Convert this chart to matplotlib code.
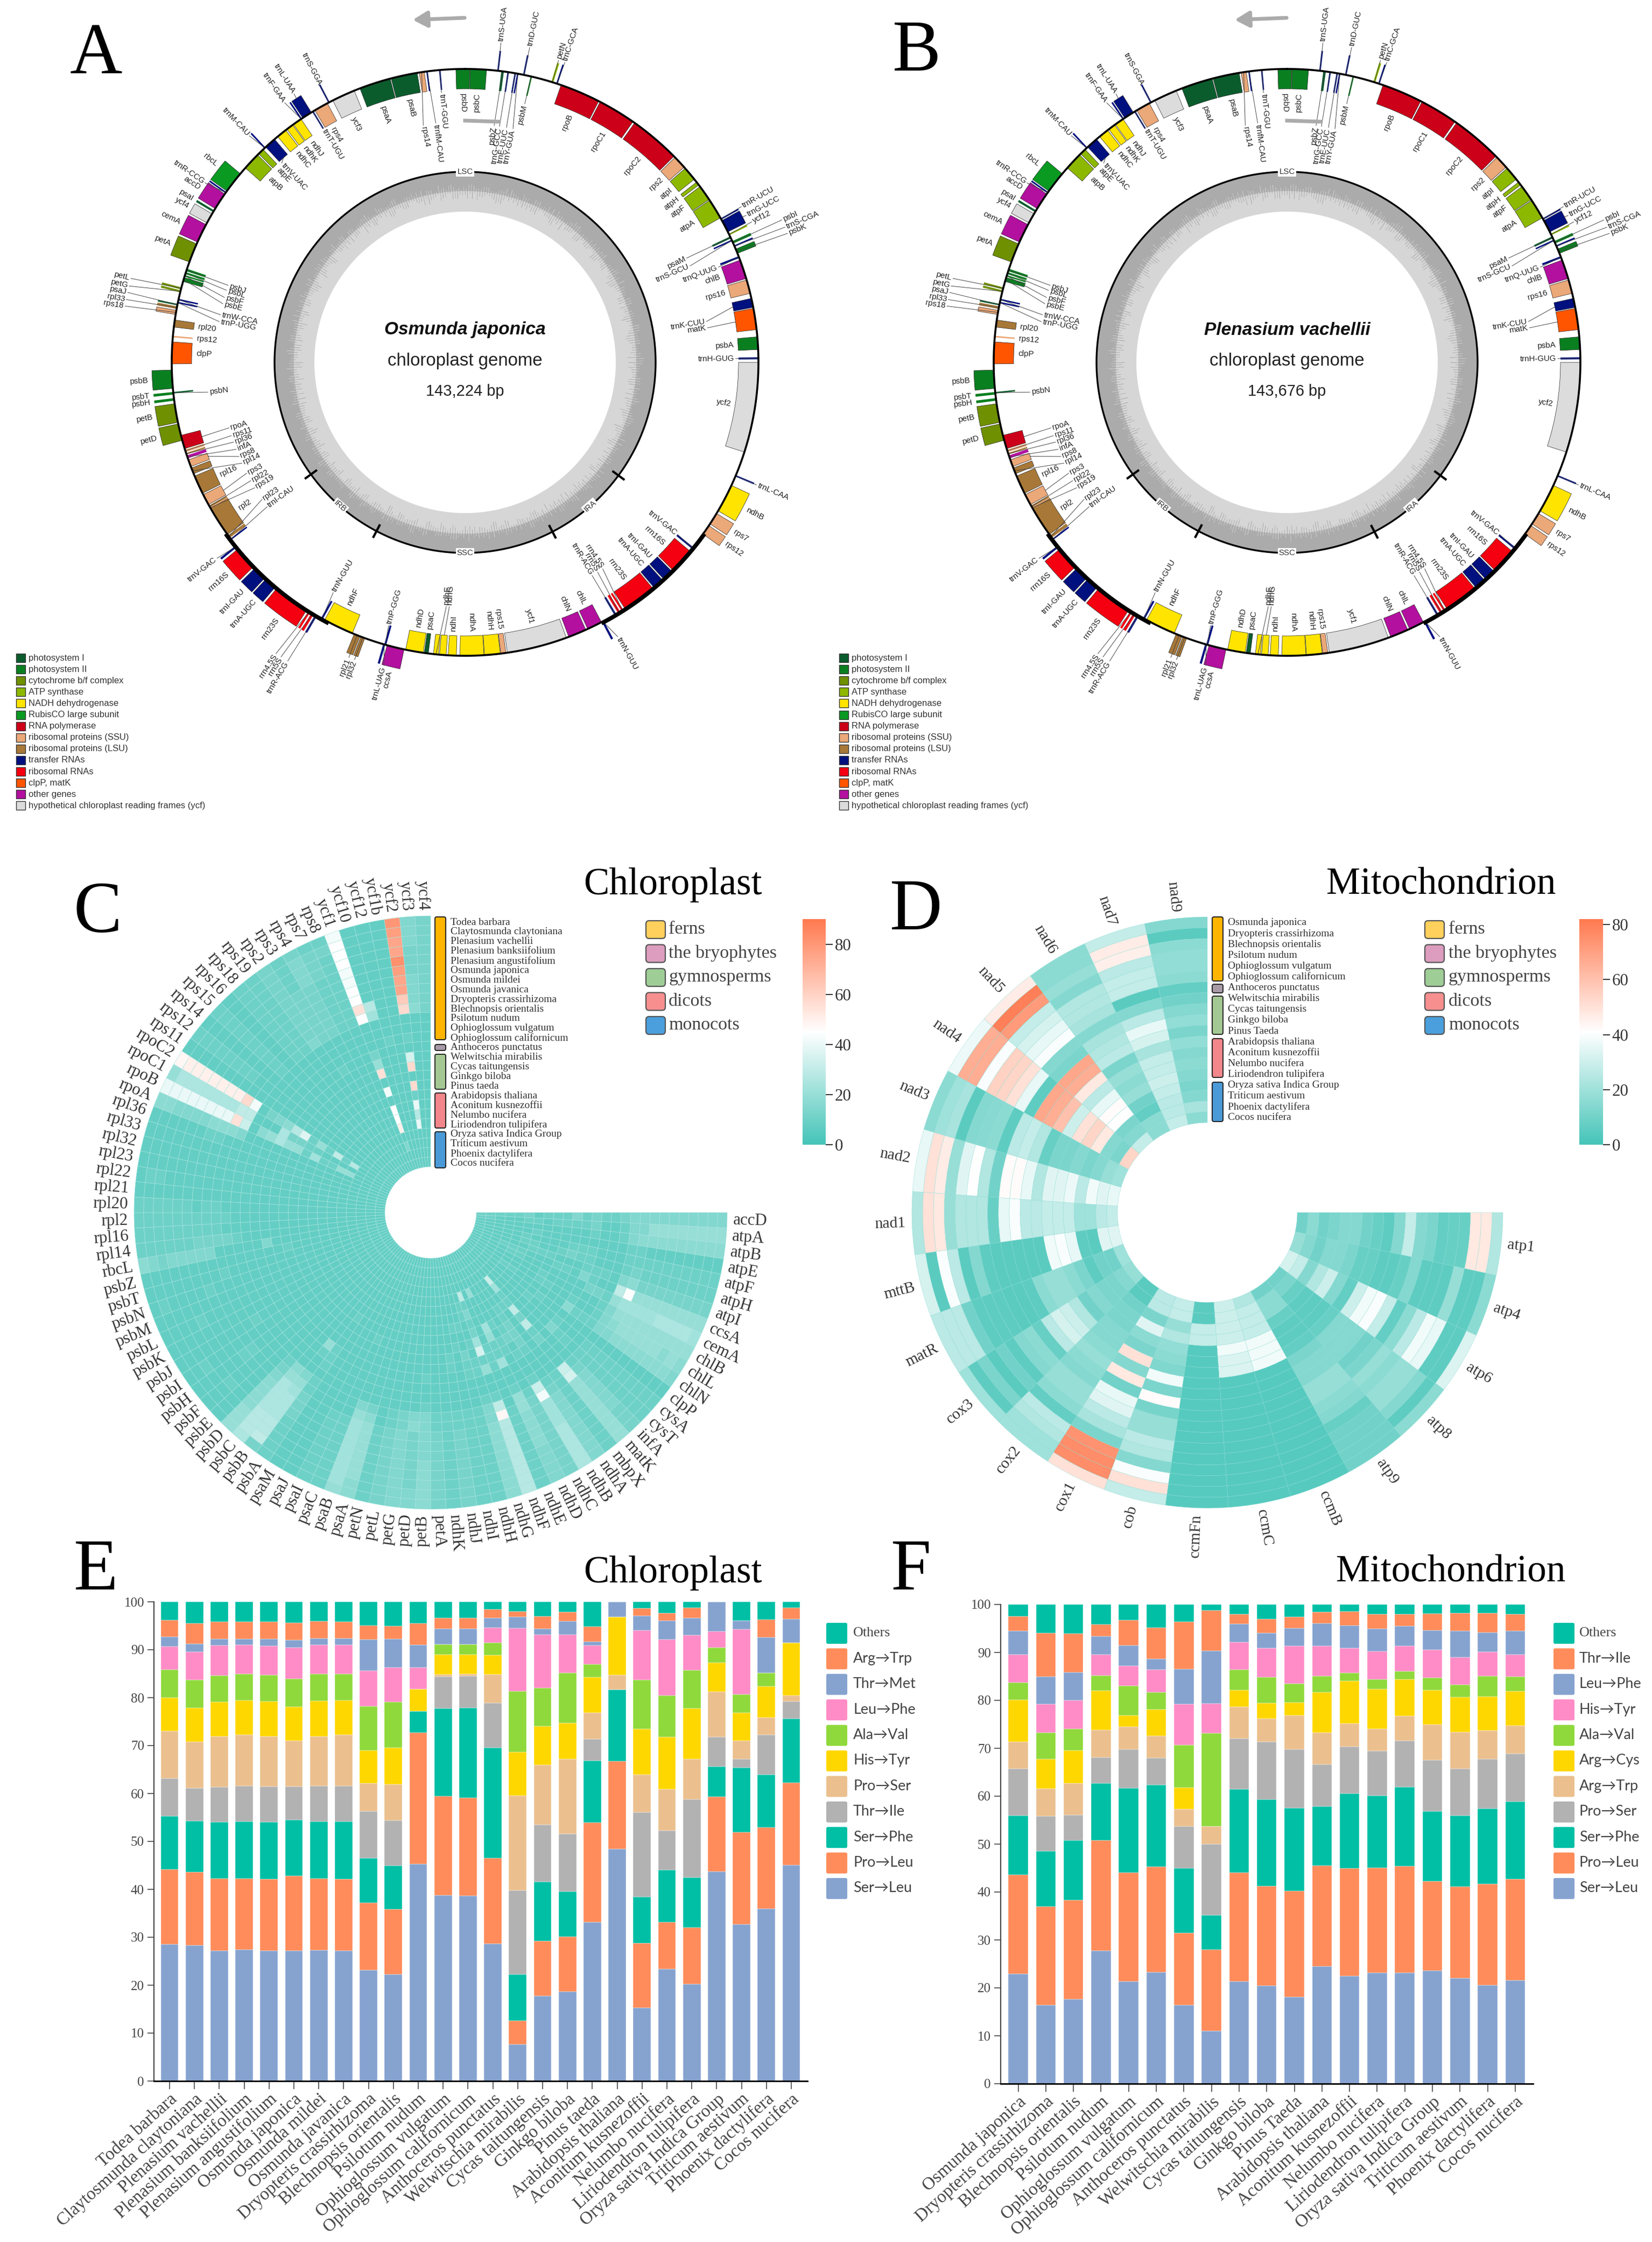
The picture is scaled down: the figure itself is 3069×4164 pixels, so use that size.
import numpy as np
import matplotlib
matplotlib.use('Agg')
import matplotlib.pyplot as plt
from matplotlib.colors import LinearSegmentedColormap, Normalize
from matplotlib.cm import ScalarMappable
from matplotlib.patches import Rectangle, FancyBboxPatch

W, H = 3069, 4164
SERIF = 'Liberation Serif'
SANS = 'Liberation Sans'

# ---- genome maps ----
group_colors = {'psI': '#0B5C2D', 'psII': '#0A7F20', 'cyt': '#6F9000', 'atp': '#8DB800', 'ndh': '#FFE400',
                'rbc': '#0A9A22', 'rna': '#CC0018', 'ssu': '#EBA878', 'lsu': '#A87838', 'trna': '#00107F',
                'rrna': '#F40010', 'clp': '#FF5500', 'oth': '#B3109F', 'ycf': '#DCDCDC'}
legend_a_names = ['photosystem I', 'photosystem II', 'cytochrome b/f complex', 'ATP synthase', 'NADH dehydrogenase',
                  'RubisCO large subunit', 'RNA polymerase', 'ribosomal proteins (SSU)', 'ribosomal proteins (LSU)',
                  'transfer RNAs', 'ribosomal RNAs', 'clpP, matK', 'other genes',
                  'hypothetical chloroplast reading frames (ycf)']
legend_a_groups = ['psI', 'psII', 'cyt', 'atp', 'ndh', 'rbc', 'rna', 'ssu', 'lsu', 'trna', 'rrna', 'clp', 'oth', 'ycf']

# name, group, start deg, end deg, side, label deg, label radius
genes = [
    ('rpoB', 'rna', 19.1, 27.1, 'i', None, None), ('rpoC1', 'rna', 27.4, 34.9, 'i', None, None),
    ('rpoC2', 'rna', 35.3, 45.4, 'i', None, None), ('rps2', 'ssu', 45.7, 48.3, 'i', None, None),
    ('atpI', 'atp', 48.6, 51.4, 'i', None, None), ('atpH', 'atp', 52.1, 52.8, 'i', None, None),
    ('atpF', 'atp', 53.2, 56.3, 'i', None, None), ('atpA', 'atp', 56.5, 60.5, 'i', None, None),
    ('trnR-UCU', 'trna', 60.6, 60.9, 'o', 60.6, 592), ('trnG-UCC', 'trna', 61.1, 63.6, 'o', 62.4, 592),
    ('ycf12', 'atp', 64.0, 64.3, 'o', 63.9, 596), ('psaM', 'psI', 64.6, 65.0, 'i', 64.8, 452),
    ('trnS-GCU', 'trna', 65.3, 65.6, 'i', 66.8, 452), ('psbI', 'psII', 65.6, 66.1, 'o', 65.8, 648),
    ('trnS-CGA', 'trna', 66.5, 66.8, 'o', 67.1, 648), ('psbK', 'psII', 67.3, 68.2, 'o', 68.2, 648),
    ('trnQ-UUG', 'trna', 68.8, 69.2, 'i', 69.4, 500), ('chlB', 'oth', 69.6, 73.4, 'i', None, None),
    ('rps16', 'ssu', 73.7, 76.4, 'i', None, None), ('trnK-CUU', 'trna', 77.4, 79.2, 'i', 80.4, 452),
    ('matK', 'clp', 79.4, 83.6, 'i', 81.9, 452), ('psbA', 'psII', 85.0, 87.5, 'i', None, None),
    ('trnH-GUG', 'trna', 89.0, 89.4, 'i', 89.2, 500), ('ycf2', 'ycf', 90.0, 107.8, 'i', None, None),
    ('trnL-CAA', 'trna', 112.6, 112.9, 'o', 112.8, 590), ('ndhB', 'ndh', 114.8, 120.4, 'o', None, None),
    ('rps7', 'ssu', 121.0, 123.4, 'o', None, None), ('rps12', 'ssu', 123.8, 125.8, 'o', None, None),
    ('trnV-GAC', 'trna', 129.0, 129.4, 'i', 129.0, 505), ('rrn16S', 'rrna', 130.0, 135.0, 'i', None, None),
    ('trnI-GAU', 'trna', 135.3, 137.5, 'i', None, None), ('trnA-UGC', 'trna', 137.8, 140.0, 'i', None, None),
    ('rrn23S', 'rrna', 140.3, 147.0, 'i', None, None), ('rrn4.5S', 'rrna', 147.4, 147.8, 'i', 146.3, 458),
    ('rrn5S', 'rrna', 148.1, 148.6, 'i', 147.7, 458), ('trnR-ACG', 'trna', 149.0, 149.4, 'i', 149.2, 458),
    ('trnN-GUU', 'trna', 151.8, 152.2, 'o', 150.9, 586), ('chlL', 'oth', 152.3, 155.3, 'i', None, None),
    ('chlN', 'oth', 155.7, 159.3, 'i', None, None), ('ycf1', 'ycf', 159.8, 171.7, 'i', None, None),
    ('rps15', 'ssu', 172.0, 173.0, 'i', None, None), ('ndhH', 'ndh', 173.1, 176.2, 'i', None, None),
    ('ndhA', 'ndh', 176.3, 181.0, 'i', None, None), ('ndhI', 'ndh', 181.7, 183.3, 'i', None, None),
    ('ndhG', 'ndh', 183.7, 185.0, 'i', 183.7, 452), ('ndhE', 'ndh', 185.2, 186.2, 'i', 184.4, 452),
    ('psaC', 'psI', 187.2, 188.0, 'i', None, None), ('ndhD', 'ndh', 188.2, 191.7, 'i', None, None),
    ('ccsA', 'oth', 192.0, 195.4, 'o', None, None), ('trnP-GGG', 'trna', 195.6, 196.0, 'i', 196.2, 506),
    ('trnL-UAG', 'trna', 195.8, 196.2, 'o', 195.0, 586), ('rpl32', 'lsu', 200.0, 200.8, 'o', 200.4, 592),
    ('rpl21', 'lsu', 201.0, 202.2, 'o', 201.5, 592), ('ndhF', 'ndh', 202.6, 208.6, 'i', None, None),
    ('trnN-GUU', 'trna', 209.0, 209.4, 'i', 209.8, 490), ('trnR-ACG', 'trna', 210.3, 210.7, 'o', 210.7, 648),
    ('rrn5S', 'rrna', 211.0, 211.5, 'o', 212.0, 648), ('rrn4.5S', 'rrna', 211.8, 212.2, 'o', 213.0, 648),
    ('rrn23S', 'rrna', 212.6, 219.8, 'o', None, None), ('trnA-UGC', 'trna', 220.2, 222.6, 'o', None, None),
    ('trnI-GAU', 'trna', 222.9, 225.6, 'o', None, None), ('rrn16S', 'rrna', 226.0, 230.6, 'o', None, None),
    ('trnV-GAC', 'trna', 231.0, 231.4, 'o', 231.7, 590), ('trnI-CAU', 'trna', 232.8, 233.1, 'i', 233.9, 452),
    ('rpl23', 'lsu', 233.3, 233.9, 'i', 236.0, 452), ('rpl2', 'lsu', 234.1, 240.2, 'i', None, None),
    ('rpl22', 'lsu', 240.4, 240.8, 'i', 241.1, 452), ('rps3', 'ssu', 241.0, 243.2, 'i', 243.1, 452),
    ('rps19', 'ssu', 240.2, 240.4, 'i', 239.2, 452), ('rpl16', 'lsu', 243.5, 247.2, 'i', None, None),
    ('rpl14', 'lsu', 247.7, 248.9, 'i', 245.7, 452), ('rps8', 'ssu', 249.2, 250.6, 'i', 247.4, 452),
    ('infA', 'oth', 250.9, 251.5, 'i', 249.2, 452), ('rpl36', 'lsu', 251.7, 252.0, 'i', 251.0, 452),
    ('rps11', 'ssu', 252.2, 252.7, 'i', 252.6, 452), ('rpoA', 'rna', 252.9, 255.6, 'i', 254.5, 452),
    ('petD', 'cyt', 254.6, 257.9, 'o', None, None), ('petB', 'cyt', 258.2, 261.9, 'o', None, None),
    ('psbH', 'psII', 262.5, 263.0, 'o', None, None), ('psbN', 'psI', 263.9, 264.2, 'i', 263.4, 478),
    ('psbT', 'psII', 263.7, 264.2, 'o', None, None), ('psbB', 'psII', 264.9, 268.5, 'o', None, None),
    ('clpP', 'clp', 269.7, 274.0, 'i', None, None), ('rps12', 'ssu', 274.9, 275.2, 'i', None, None),
    ('rpl20', 'lsu', 276.9, 278.3, 'i', None, None), ('rps18', 'ssu', 279.4, 280.2, 'o', 279.4, 643),
    ('rpl33', 'lsu', 280.5, 281.0, 'o', 280.5, 643), ('psaJ', 'psI', 281.2, 281.5, 'o', 281.7, 643),
    ('trnP-UGG', 'trna', 281.6, 281.9, 'i', 279.4, 460), ('trnW-CCA', 'trna', 282.2, 282.5, 'i', 281.0, 460),
    ('petG', 'cyt', 283.8, 284.2, 'o', 282.8, 643), ('petL', 'cyt', 284.4, 284.8, 'o', 284.1, 643),
    ('psbE', 'psII', 286.0, 286.8, 'i', 283.6, 460), ('psbF', 'psII', 287.0, 287.3, 'i', 285.1, 460),
    ('psbL', 'psII', 287.5, 287.9, 'i', 286.8, 460), ('psbJ', 'psII', 288.1, 288.6, 'i', 288.0, 460),
    ('petA', 'cyt', 290.0, 293.8, 'o', None, None), ('cemA', 'oth', 294.2, 298.0, 'o', None, None),
    ('ycf4', 'ycf', 298.4, 300.4, 'o', None, None), ('psaI', 'psI', 300.8, 301.2, 'o', None, None),
    ('accD', 'oth', 301.6, 305.0, 'o', None, None), ('trnR-CCG', 'trna', 305.2, 305.5, 'o', 304.6, 590),
    ('rbcL', 'rbc', 305.7, 310.0, 'o', 308.5, None), ('atpB', 'atp', 311.5, 315.0, 'i', None, None),
    ('atpE', 'atp', 315.3, 316.5, 'i', None, None), ('trnM-CAU', 'trna', 316.8, 317.1, 'o', 316.4, 584),
    ('trnV-UAC', 'trna', 317.2, 319.5, 'i', 317.4, 500), ('ndhC', 'ndh', 320.3, 322.3, 'i', None, None),
    ('ndhK', 'ndh', 322.6, 324.0, 'i', None, None), ('ndhJ', 'ndh', 324.2, 326.0, 'i', None, None),
    ('trnF-GAA', 'trna', 325.9, 326.2, 'o', 325.2, 590), ('trnL-UAA', 'trna', 326.4, 328.4, 'o', 327.5, 594),
    ('trnT-UGU', 'trna', 328.6, 328.9, 'i', 328.8, 505), ('rps4', 'ssu', 329.2, 332.0, 'i', None, None),
    ('trnS-GGA', 'trna', 332.2, 332.5, 'o', 332.4, 582), ('ycf3', 'ycf', 333.2, 337.8, 'i', None, None),
    ('psaA', 'psI', 339.0, 345.2, 'i', None, None), ('psaB', 'psI', 345.4, 350.6, 'i', None, None),
    ('rps14', 'ssu', 351.0, 352.0, 'i', 350.0, 444), ('trnfM-CAU', 'trna', 352.4, 352.7, 'i', 353.0, 445),
    ('trnT-GGU', 'trna', 354.9, 355.2, 'i', 355.0, 500), ('psbD', 'psII', 358.2, 360.9, 'i', None, None),
    ('psbC', 'psII', 1.0, 4.2, 'i', None, None), ('trnS-UGA', 'trna', 6.3, 6.6, 'o', 6.4, 600),
    ('psbZ', 'psI', 7.1, 7.6, 'i', 7.0, 440), ('trnG-GCC', 'trna', 8.3, 8.6, 'i', 8.3, 440),
    ('trnE-UUC', 'trna', 9.7, 10.0, 'i', 10.0, 440), ('trnY-GUA', 'trna', 10.2, 10.5, 'i', 11.6, 440),
    ('trnD-GUC', 'trna', 11.4, 11.7, 'o', 11.6, 600), ('psbM', 'psII', 12.9, 13.2, 'i', 13.0, 490),
    ('petN', 'atp', 17.1, 17.5, 'o', 17.2, 590), ('trnC-GCA', 'trna', 18.1, 18.4, 'o', 18.4, 590),
]

# height of GC spikes round the ring, every 2.5 degrees
gc_spikes = [6, 14, 9, 3, 11, 17, 8, 5, 12, 7, 15, 4, 10, 6, 18, 9, 3, 13, 8, 5, 16, 7, 11, 4, 9, 14, 6, 12, 3, 8,
             17, 5, 10, 13, 7, 4, 15, 9, 6, 11, 3, 14, 8, 12, 5, 18, 7, 10, 4, 13, 6, 9, 16, 3, 11, 8, 5, 14, 7, 12,
             4, 10, 15, 6, 9, 3, 13, 8, 17, 5, 11, 7, 14, 4, 9, 12, 6, 16, 3, 10, 8, 13, 5, 18, 7, 11, 4, 9, 15, 6,
             12, 3, 8, 14, 5, 10, 17, 7, 13, 4, 11, 6, 9, 15, 3, 12, 8, 5, 16, 7, 10, 14, 4, 9, 6, 13, 11, 3, 8, 18,
             5, 12, 7, 15, 4, 10, 6, 14, 9, 3, 11, 16, 8, 5, 13, 7, 12, 4, 9, 17, 6, 10, 3, 14]

# ---- heatmaps ----
cp_species = ['Todea barbara', 'Claytosmunda claytoniana', 'Plenasium vachellii', 'Plenasium banksiifolium',
              'Plenasium angustifolium', 'Osmunda japonica', 'Osmunda mildei', 'Osmunda javanica',
              'Dryopteris crassirhizoma', 'Blechnopsis orientalis', 'Psilotum nudum', 'Ophioglossum vulgatum',
              'Ophioglossum californicum', 'Anthoceros punctatus', 'Welwitschia mirabilis', 'Cycas taitungensis',
              'Ginkgo biloba', 'Pinus taeda', 'Arabidopsis thaliana', 'Aconitum kusnezoffii', 'Nelumbo nucifera',
              'Liriodendron tulipifera', 'Oryza sativa Indica Group', 'Triticum aestivum', 'Phoenix dactylifera',
              'Cocos nucifera']
mt_species = ['Osmunda japonica', 'Dryopteris crassirhizoma', 'Blechnopsis orientalis', 'Psilotum nudum',
              'Ophioglossum vulgatum', 'Ophioglossum californicum', 'Anthoceros punctatus', 'Welwitschia mirabilis',
              'Cycas taitungensis', 'Ginkgo biloba', 'Pinus Taeda', 'Arabidopsis thaliana', 'Aconitum kusnezoffii',
              'Nelumbo nucifera', 'Liriodendron tulipifera', 'Oryza sativa Indica Group', 'Triticum aestivum',
              'Phoenix dactylifera', 'Cocos nucifera']

# chloroplast: one char per species, outer ring first, base 36 in steps of 2.5
cp_cells = {
    'accD': '66666666 66 5 44 5 4644 4354 4444', 'atpA': '88888888 66 4 33 5 4444 3443 3344',
    'atpB': '77777777 76 4 33 4 3333 3333 3333', 'atpE': '33333333 44 3 33 3 3333 3433 3333',
    'atpF': '44444444 44 3 33 4 4433 3343 3333', 'atpH': '44444444 54 3 33 4 4543 3443 3333',
    'atpI': '55555555 76 3 44 4 3334 4433 3333', 'ccsA': '88888888 ic 3 34 6 3443 3344 4333',
    'cemA': '9aaaa999 98 4 55 3 3333 3344 3333', 'chlB': '88888888 86 4 33 3 3334 3333 3333',
    'chlL': '78788888 76 4 33 4 3344 3333 3333', 'chlN': '67777777 66 4 44 7 3333 3344 3333',
    'clpP': '33333333 33 3 33 3 3343 3333 3333', 'cysA': '44444444 44 3 33 4 3334 3333 3333',
    'cysT': '44444444 44 3 44 6 3333 3333 3333', 'infA': '55566666 54 3 33 3 3333 3333 3333',
    'matK': '88888888 ed 3 33 5 4c5c 449d 3333', 'mbpX': '44444444 44 3 33 3 3333 4333 3333',
    'ndhA': '66666666 54 3 33 4 5554 4333 3333', 'ndhB': 'aaaaa999 hd 4 33 4 3543 3333 3333',
    'ndhC': '55555555 54 3 33 3 4434 3333 3333', 'ndhD': '66667777 88 4 33 9 4489 3338 3333',
    'ndhE': '44444444 43 3 33 4 4433 3333 3333', 'ndhF': 'bbbbbbbb jc 4 33 8 4e95 464c 3333',
    'ndhG': '77777777 66 4 33 4 4343 3443 3333', 'ndhH': '44444444 44 3 33 4 4533 4333 3333',
    'ndhI': '44444444 44 3 33 3 3343 4333 3333', 'ndhJ': '55555555 44 3 33 3 4433 3333 3333',
    'ndhK': '44444444 44 3 33 3 3333 3333 3333', 'petA': '55555555 44 3 33 3 3333 3333 3333',
    'petB': '77777666 66 4 33 4 3333 3333 3333', 'petD': '66555555 76 3 33 3 3333 3333 3333',
    'petG': '66666666 55 3 33 3 3333 3333 3333', 'petL': '55555555 44 3 33 3 3333 3333 3333',
    'petN': '44444444 33 3 33 3 3333 3333 3333', 'psaA': '77888888 75 3 33 3 3333 3333 3333',
    'psaB': '89999999 86 3 33 3 3333 3333 3333', 'psaC': '44444444 33 3 33 3 3343 3333 3333',
    'psaI': '44444444 33 3 33 3 3333 3333 3333', 'psaJ': '33333333 33 3 33 3 3333 3333 3333',
    'psaM': '33333333 33 3 33 3 3333 3333 3333', 'psbA': '44444555 44 3 44 4 3334 3333 3333',
    'psbB': '5cbbaaa9 86 3 34 8 3333 3333 3333', 'psbC': 'abbbaaaa 87 3 33 3 3333 3333 3333',
    'psbD': '88877776 54 3 33 3 3333 3333 3333', 'psbE': '33333333 33 3 33 3 3333 3333 3333',
    'psbF': '33343333 33 3 33 3 3333 3333 3333', 'psbH': '33333344 33 3 33 3 3333 3333 3333',
    'psbI': '33433333 33 3 33 3 3333 3333 3333', 'psbJ': '33333333 34 3 33 3 3333 3333 3333',
    'psbK': '33333333 33 3 33 3 3333 3333 3333', 'psbL': '33334333 33 3 33 3 3333 3333 3333',
    'psbM': '33333333 33 3 33 3 3333 3333 3333', 'psbN': '34333343 33 3 33 3 3333 3333 3333',
    'psbT': '33333333 43 3 33 3 3333 3333 3333', 'psbZ': '33333333 33 3 33 3 3433 3333 3333',
    'rbcL': '76566666 33 3 33 6 3333 3333 3333', 'rpl14': '44444455 55 4 33 3 3333 3333 3333',
    'rpl16': '44444444 43 3 33 3 3333 3333 3333', 'rpl2': '44444444 44 3 33 3 3333 3333 3333',
    'rpl20': '44444434 43 3 33 3 3333 3333 3333', 'rpl21': '33333333 33 3 33 3 3333 3333 3333',
    'rpl22': '34433333 33 3 33 3 3333 3333 3333', 'rpl23': '33333333 33 3 33 3 3333 3333 3333',
    'rpl32': '33333333 33 3 33 3 3333 3333 3333', 'rpl33': '33333333 33 3 33 3 3333 3333 3333',
    'rpl36': '33333344 33 3 33 3 3333 3333 3333', 'rpoA': '77666677 76 3 33 3 3333 3333 3333',
    'rpoB': 'gggggggg md 3 78 a 8849 4488 3333', 'rpoC1': '8aaaaaaa cc 3 33 a 5544 3333 3333',
    'rpoC2': 'jkkkkkkk nh 3 56 7 bf48 4c4b 3333', 'rps11': '33333333 33 3 33 3 3333 3333 3333',
    'rps12': '44444444 33 3 33 3 3333 3333 3333', 'rps14': '33333333 33 3 33 3 3333 3333 3333',
    'rps15': '44444444 44 3 33 3 3333 3333 3333', 'rps16': '33333333 33 3 33 3 3333 3333 3333',
    'rps18': '44444444 44 3 33 3 3333 3333 3333', 'rps19': '44444444 44 3 33 3 3333 3333 3333',
    'rps2': '55555555 56 3 33 3 3333 3333 3333', 'rps3': '44445555 55 3 33 4 3333 3333 3333',
    'rps4': '56665555 55 3 33 3 3333 3333 3333', 'rps7': '45554444 44 3 33 3 3333 3333 3333',
    'rps8': '45444444 44 3 33 3 3333 3333 3333', 'ycf1': 'hiiihhii mi 3 33 5 8m3h 3iik 3633',
    'ycf10': '33333333 b9 3 33 3 3333 3333 3333', 'ycf12': '33333333 33 3 34 3 3333 3333 3333',
    'ycf1b': '33333333 33 3 33 3 3333 3333 3333', 'ycf2': 'wvuuxvuu pn 3 34 3 en3n 4gbg 3333',
    'ycf3': '66655566 67 3 33 3 3333 3333 3333', 'ycf4': '55555555 55 3 33 3 3333 3333 3333',
}

mt_genes = ['atp1', 'atp4', 'atp6', 'atp8', 'atp9', 'ccmB', 'ccmC', 'ccmFn', 'cob', 'cox1', 'cox2', 'cox3', 'matR',
            'mttB', 'nad1', 'nad2', 'nad3', 'nad4', 'nad5', 'nad6', 'nad7', 'nad9']
# mitochondrion: one column per gene, outer ring first
mt_atp1 = [24, 48, 48, 8, 8, 7, 12, 14, 28, 14, 6, 8, 10, 14, 14, 12, 10, 16, 10]
mt_atp4 = [16, 6, 6, 18, 6, 6, 6, 14, 8, 6, 6, 8, 8, 12, 14, 14, 10, 14, 18]
mt_atp6 = [33, 6, 6, 36, 38, 26, 16, 7, 28, 40, 38, 30, 7, 14, 30, 24, 14, 28, 32]
mt_atp8 = [16, 6, 14, 18, 18, 16, 18, 12, 10, 14, 14, 14, 8, 6, 6, 6, 8, 12, 10]
mt_atp9 = [10, 10, 10, 10, 8, 14, 16, 18, 18, 14, 14, 12, 7, 6, 6, 8, 16, 16, 10]
mt_ccmB = [4, 4, 4, 4, 4, 4, 4, 4, 4, 4, 4, 4, 38, 38, 38, 28, 28, 28, 24]
mt_ccmC = [4, 4, 4, 4, 4, 4, 4, 4, 4, 4, 4, 4, 33, 33, 38, 30, 30, 30, 30]
mt_ccmFn = [4, 4, 4, 4, 4, 4, 4, 4, 4, 4, 4, 4, 4, 4, 4, 28, 28, 5, 5]
mt_cob = [28, 50, 40, 14, 24, 26, 18, 18, 11, 42, 12, 38, 13, 16, 17, 24, 18, 28, 28]
mt_cox1 = [50, 76, 76, 74, 12, 22, 26, 34, 36, 10, 48, 14, 50, 12, 16, 34, 12, 26, 26]
mt_cox2 = [20, 20, 24, 26, 7, 16, 18, 18, 14, 16, 18, 16, 14, 14, 12, 12, 10, 5, 5]
mt_cox3 = [20, 6, 12, 5, 10, 6, 14, 16, 8, 26, 32, 30, 24, 10, 14, 12, 12, 14, 18]
mt_matR = [26, 26, 26, 10, 6, 6, 6, 5, 5, 6, 16, 18, 18, 16, 12, 6, 10, 10, 20]
mt_mttB = [32, 5, 40, 26, 5, 14, 6, 5, 5, 5, 5, 5, 38, 40, 36, 6, 5, 34, 34]
mt_nad1 = [24, 50, 48, 18, 24, 24, 24, 8, 36, 40, 26, 26, 28, 28, 28, 20, 20, 26, 28]
mt_nad2 = [36, 50, 47, 18, 34, 41, 24, 10, 42, 42, 36, 24, 34, 34, 37, 26, 38, 34, 36]
mt_nad3 = [16, 20, 22, 5, 14, 15, 16, 6, 26, 28, 24, 8, 12, 12, 14, 12, 14, 18, 20]
mt_nad4 = [37, 66, 66, 40, 55, 54, 50, 36, 6, 68, 66, 60, 30, 50, 54, 48, 14, 12, 54]
mt_nad5 = [47, 80, 72, 28, 32, 36, 40, 14, 12, 68, 66, 48, 26, 36, 42, 41, 12, 14, 28]
mt_nad6 = [16, 16, 18, 14, 24, 24, 22, 14, 22, 24, 26, 12, 18, 16, 18, 10, 7, 16, 16]
mt_nad7 = [28, 47, 46, 26, 28, 28, 5, 14, 26, 36, 32, 22, 28, 28, 30, 28, 26, 26, 28]
mt_nad9 = [14, 5, 16, 17, 17, 16, 7, 10, 14, 17, 12, 17, 14, 16, 14, 12, 14, 22, 16]
mt_cells = [mt_atp1, mt_atp4, mt_atp6, mt_atp8, mt_atp9, mt_ccmB, mt_ccmC, mt_ccmFn, mt_cob, mt_cox1, mt_cox2,
            mt_cox3, mt_matR, mt_mttB, mt_nad1, mt_nad2, mt_nad3, mt_nad4, mt_nad5, mt_nad6, mt_nad7, mt_nad9]

taxa_names = ['ferns', 'the bryophytes', 'gymnosperms', 'dicots', 'monocots']
taxa_colors = ['#FFD05B', '#DC9DBE', '#9ECE96', '#F78F8F', '#4A9FDC']
side_colors = ['#FFB400', '#A99AA8', '#A4C893', '#F2868A', '#4A9AD8']

# ---- stacked bars ----
e_species = cp_species
f_species = ['Osmunda japonica', 'Dryopteris crassirhizoma', 'Blechnopsis orientalis', 'Psilotum nudum',
             'Ophioglossum vulgatum', 'Ophioglossum californicum', 'Anthoceros punctatus', 'Welwitschia mirabilis',
             'Cycas taitungensis', 'Ginkgo biloba', 'Pinus Taeda', 'Arabidopsis thaliana', 'Aconitum kusnezoffii',
             'Nelumbo nucifera', 'Liriodendron tulipifera', 'Oryza sativa Indica Group', 'Triticum aestivum',
             'Phoenix dactylifera', 'Cocos nucifera']
stack_colors = ['#86A3D0', '#FF8C5A', '#00BFA5', '#B2B2B2', '#EBC08E', '#FFD700', '#8FD93C', '#FF8CC6', '#86A3D0',
                '#FF8C5A', '#00BFA5']
e_legend = ['Ser→Leu', 'Pro→Leu', 'Ser→Phe', 'Thr→Ile', 'Pro→Ser', 'His→Tyr', 'Ala→Val', 'Leu→Phe', 'Thr→Met',
            'Arg→Trp', 'Others']
f_legend = ['Ser→Leu', 'Pro→Leu', 'Ser→Phe', 'Pro→Ser', 'Arg→Trp', 'Arg→Cys', 'Ala→Val', 'His→Tyr', 'Leu→Phe',
            'Thr→Ile', 'Others']

# running tops of each bar, bottom segment first
e_tops = [
    [28.5, 44.2, 55.3, 63.1, 73.0, 80.0, 85.8, 90.7, 92.7, 96.2, 100],
    [28.3, 43.6, 54.3, 61.1, 70.8, 77.9, 83.7, 89.6, 91.2, 95.5, 100],
    [27.2, 42.3, 54.0, 61.3, 71.9, 79.1, 84.6, 90.9, 92.3, 95.8, 100],
    [27.4, 42.3, 54.2, 61.6, 72.2, 79.4, 85.0, 91.0, 92.3, 95.8, 100],
    [27.2, 42.1, 54.1, 61.5, 71.9, 79.2, 84.7, 90.8, 92.3, 95.8, 100],
    [27.2, 42.8, 54.5, 61.5, 71.0, 78.1, 83.9, 90.4, 92.0, 95.6, 100],
    [27.3, 42.2, 54.2, 61.6, 71.9, 79.3, 84.9, 91.0, 92.4, 95.9, 100],
    [27.2, 42.1, 54.2, 61.6, 72.2, 79.4, 85.0, 91.0, 92.4, 95.8, 100],
    [23.1, 37.2, 46.5, 56.3, 62.1, 69.0, 78.2, 85.6, 92.1, 95.1, 100],
    [22.2, 35.8, 45.0, 54.4, 61.9, 69.6, 79.1, 86.3, 92.3, 94.9, 100],
    [45.3, 72.7, 77.2, 77.2, 77.2, 81.8, 81.8, 86.3, 91.0, 95.5, 100],
    [38.8, 59.4, 77.7, 84.4, 84.8, 89.0, 91.1, 91.1, 94.4, 96.6, 100],
    [38.6, 59.1, 77.9, 84.5, 85.0, 89.0, 91.1, 91.1, 94.4, 96.6, 100],
    [28.6, 46.5, 69.6, 78.9, 84.8, 88.9, 91.5, 94.6, 96.6, 98.4, 100],
    [7.6, 12.6, 22.2, 39.8, 59.5, 68.7, 81.3, 94.5, 96.9, 98.0, 100],
    [17.8, 29.2, 41.6, 53.5, 66.0, 74.0, 82.0, 93.1, 94.4, 97.0, 100],
    [18.7, 30.1, 39.6, 51.6, 67.2, 74.7, 85.2, 93.1, 96.0, 97.9, 100],
    [33.1, 53.9, 66.8, 71.4, 76.8, 84.3, 87.0, 90.9, 91.7, 94.8, 100],
    [48.4, 66.7, 81.7, 81.7, 84.7, 96.9, 96.9, 96.9, 100, 100, 100],
    [15.3, 28.8, 38.4, 56.1, 63.9, 73.5, 83.7, 94.0, 97.1, 98.7, 100],
    [23.4, 33.2, 44.1, 52.3, 60.9, 71.8, 80.4, 92.1, 96.1, 97.6, 100],
    [20.2, 32.0, 42.5, 58.8, 67.2, 77.7, 85.7, 93.0, 96.6, 98.8, 100],
    [43.7, 59.3, 65.6, 71.8, 81.2, 87.3, 90.5, 93.8, 100, 100, 100],
    [32.7, 51.9, 65.4, 67.2, 71.0, 76.8, 80.7, 94.3, 96.1, 96.1, 100],
    [36.0, 52.9, 63.9, 72.2, 75.8, 82.4, 85.2, 85.2, 92.6, 96.3, 100],
    [45.1, 62.2, 75.6, 79.2, 80.4, 91.5, 91.5, 91.5, 96.4, 98.8, 100],
]
f_tops = [
    [22.9, 43.6, 55.9, 65.7, 71.4, 80.1, 83.7, 89.6, 94.5, 97.5, 100],
    [16.4, 37.0, 48.5, 55.8, 61.6, 67.8, 73.3, 79.2, 85.0, 94.1, 100],
    [17.6, 38.3, 50.8, 56.1, 62.7, 69.5, 74.0, 80.0, 85.8, 93.9, 100],
    [27.8, 50.8, 62.7, 68.1, 73.8, 82.0, 85.2, 89.5, 93.4, 95.8, 100],
    [21.3, 44.0, 61.7, 69.8, 74.5, 76.8, 83.0, 87.2, 91.5, 96.7, 100],
    [23.3, 45.3, 62.4, 68.0, 72.6, 78.1, 81.7, 86.4, 88.6, 95.2, 100],
    [16.4, 31.5, 45.0, 53.7, 57.3, 61.8, 70.7, 79.2, 86.5, 96.4, 100],
    [11.0, 28.0, 35.2, 50.0, 53.7, 53.7, 73.1, 79.3, 90.3, 98.8, 100],
    [21.3, 44.1, 61.5, 72.0, 78.7, 82.1, 86.4, 92.1, 95.9, 98.0, 100],
    [20.5, 41.2, 59.3, 71.3, 76.2, 79.4, 84.8, 90.9, 94.0, 97.0, 100],
    [18.1, 40.2, 57.5, 69.8, 76.8, 79.5, 83.5, 91.3, 95.1, 97.4, 100],
    [24.5, 45.5, 57.9, 66.6, 73.3, 81.7, 85.1, 91.3, 96.1, 98.4, 100],
    [22.5, 44.9, 60.6, 70.3, 75.2, 84.0, 85.7, 90.9, 95.6, 98.5, 100],
    [23.2, 45.1, 60.1, 69.4, 74.0, 82.4, 84.4, 90.2, 95.0, 98.0, 100],
    [23.2, 45.4, 61.9, 71.6, 76.7, 84.4, 86.1, 91.4, 95.5, 98.0, 100],
    [23.6, 42.2, 56.9, 67.5, 75.0, 82.1, 84.7, 90.6, 94.6, 98.1, 100],
    [22.0, 41.1, 55.9, 65.7, 73.4, 80.7, 83.3, 89.0, 94.5, 98.2, 100],
    [20.6, 41.7, 57.4, 67.8, 73.7, 80.8, 85.1, 90.1, 94.2, 98.2, 100],
    [21.6, 42.7, 58.9, 68.9, 74.7, 81.9, 84.9, 89.6, 94.5, 98.0, 100],
]

fig = plt.figure(figsize=(W / 100, H / 100), dpi=100, facecolor='white')
px = fig.add_axes([0, 0, 1, 1], zorder=5)
px.set_xlim(0, W)
px.set_ylim(H, 0)
px.axis('off')
px.patch.set_alpha(0)


def fs(p):
    # font size from em height in pixels
    return p * 0.72


def polar_at(cx, cy, rmax):
    ax = fig.add_axes([(cx - rmax) / W, 1 - (cy + rmax) / H, 2 * rmax / W, 2 * rmax / H], projection='polar')
    ax.set_theta_zero_location('N')
    ax.set_theta_direction(-1)
    ax.set_rlim(0, rmax)
    ax.axis('off')
    ax.patch.set_alpha(0)
    return ax


def radial_text(ax, deg, r, s, side, **kw):
    # text runs along the radius; side 'o' starts at r going out, 'i' ends at r
    deg = deg % 360
    if deg <= 180:
        rot, ha = 90 - deg, 'left' if side == 'o' else 'right'
    else:
        rot, ha = 270 - deg, 'right' if side == 'o' else 'left'
    ax.text(np.radians(deg), r, s, rotation=rot, rotation_mode='anchor', ha=ha, va='center', **kw)


def genome_map(cx, cy, species, size, lx):
    ax = polar_at(cx, cy, 700)
    full = np.linspace(0, 2 * np.pi, 721)
    ax.bar(0, 38, width=2 * np.pi, bottom=280, color='#D6D6D6', linewidth=0)
    ax.bar(0, 36, width=2 * np.pi, bottom=318, color='#ABABAB', linewidth=0)
    # fine GC texture, the typed spike list read at three offsets
    spikes = np.array(gc_spikes)
    for off, arr, lw in [(0, spikes, 0.8), (0.85, spikes[::-1], 0.7), (1.7, np.roll(spikes, 37), 0.6)]:
        th = np.radians(np.arange(len(spikes)) * 2.5 + off)
        ax.vlines(th, 318 - arr, 318, color='#ABABAB', lw=lw)
        ax.vlines(th + np.radians(0.4), 318, 318 + np.roll(arr, 11) * 0.8, color='#CFCFCF', lw=lw)
    ax.plot(full, np.full(721, 354), color='k', lw=2.4)
    for d in [126.4, 152.7, 207.7, 234]:
        ax.plot(np.radians([d, d]), [342, 366], color='k', lw=3)
    for d, s, rot in [(0, 'LSC', 0), (180, 'SSC', 0), (139, 'IRA', 41), (221, 'IRB', -41)]:
        ax.text(np.radians(d), 354, s, ha='center', va='center', rotation=rot, fontsize=fs(15), color='#333333',
                family=SANS, bbox=dict(fc='white', ec='none', pad=1.5))

    # gene circle
    for name, g, a, b, side, ldeg, lr in genes:
        mid = (a + b) / 2
        h = 37
        bottom = 545 - h if side == 'i' else 545
        thin = b - a < 0.6
        ax.bar(np.radians(mid), h, width=np.radians(b - a), bottom=bottom, color=group_colors[g],
               edgecolor='#222222', linewidth=0 if thin else 0.5)
    ax.plot(full, np.full(721, 545), color='k', lw=2.6, zorder=4)
    ax.plot(np.radians(np.linspace(126, 152, 60)), np.full(60, 547), color='k', lw=5.5, zorder=4)
    ax.plot(np.radians(np.linspace(208, 234, 60)), np.full(60, 547), color='k', lw=5.5, zorder=4)

    # gene labels and leaders
    for name, g, a, b, side, ldeg, lr in genes:
        mid = (a + b) / 2
        deg = mid if ldeg is None else ldeg
        rr = lr if lr is not None else (590 if side == 'o' else 500)
        if lr is not None:
            r0 = 545 + 37 if side == 'o' else 545 - 37
            if b - a < 1.3:
                r0 = 545
            ax.plot(np.radians([mid, deg]), [r0, rr + (-3 if side == 'o' else 3)], color='#444444', lw=0.7, zorder=3)
        radial_text(ax, deg, rr, name, side, fontsize=fs(15), color='#222222', family=SANS)

    px.text(cx, cy - 60, species, ha='center', va='center', fontsize=fs(33.5), family=SANS, weight='bold',
            style='italic', color='#111111')
    px.text(cx, cy - 3, 'chloroplast genome', ha='center', va='center', fontsize=fs(33), family=SANS, color='#222222')
    px.text(cx, cy + 54, size, ha='center', va='center', fontsize=fs(29), family=SANS, color='#222222')

    # direction arrows
    px.annotate('', xy=(cx - 100, 37), xytext=(cx + 2, 33),
                arrowprops=dict(arrowstyle='-|>,head_width=0.9,head_length=1.6', color='#ABABAB', lw=5))
    px.plot([cx, cx + 62], [224, 226], color='#ABABAB', lw=5)

    for k, (n, g) in enumerate(zip(legend_a_names, legend_a_groups)):
        y = 1222 + k * 21.1
        px.add_patch(Rectangle((lx, y - 8), 17, 16, fc=group_colors[g], ec='#333333', lw=1))
        px.text(lx + 23, y, n, va='center', fontsize=fs(16.6), family=SANS, color='#333333')


genome_map(864, 673, 'Osmunda japonica', '143,224 bp', 30)
genome_map(2391, 673, 'Plenasium vachellii', '143,676 bp', 1559)

heat_cmap = LinearSegmentedColormap.from_list('heat', ['#45C4B8', '#FFFFFF', '#FF7A50'])


def heat_panel(cx, cy, r_in, r_out, cols, names, vmax, label_r, label_px, edge, lw):
    ax = polar_at(cx, cy, 640)
    cols = np.array(cols, dtype=float)
    n_gene, n_sp = cols.shape
    step = 270 / n_gene
    ring = (r_out - r_in) / n_sp
    norm = Normalize(0, vmax)
    for i in range(n_gene):
        deg = 90 + step * (i + 0.5)
        ax.bar(np.full(n_sp, np.radians(deg)), np.full(n_sp, ring), width=np.radians(step),
               bottom=r_out - ring * (np.arange(n_sp) + 1), color=heat_cmap(norm(cols[i])), edgecolor=edge,
               linewidth=lw)
        radial_text(ax, deg, label_r, names[i], 'o', fontsize=fs(label_px), family=SERIF, color='#333333')
    return norm


def side_key(species, tx, ty, dy, blocks, bx):
    for k, s in enumerate(species):
        px.text(tx, ty + k * dy, s, va='center', fontsize=fs(19.5), family=SERIF, color='#333333')
    for (y0, y1), c in zip(blocks, side_colors):
        px.add_patch(FancyBboxPatch((bx + 2, y0 + 2), 16, y1 - y0 - 4, boxstyle='round,pad=2,rounding_size=3',
                                    fc=c, ec='#222222', lw=1.4))


def taxa_key(sx, tx):
    for k, (n, c) in enumerate(zip(taxa_names, taxa_colors)):
        y = 1726 + k * 44.5
        px.add_patch(FancyBboxPatch((sx + 3, y - 13), 30, 27, boxstyle='round,pad=3,rounding_size=6', fc=c,
                                    ec='#555555', lw=1.6))
        px.text(tx, y, n, va='center', fontsize=fs(34), family=SERIF, color='#444444')


def colorbar_at(x0, x1, y0, y1, norm):
    cax = fig.add_axes([x0 / W, 1 - y1 / H, (x1 - x0) / W, (y1 - y0) / H])
    cb = fig.colorbar(ScalarMappable(norm=norm, cmap=heat_cmap), cax=cax, ticks=[0, 20, 40, 60, 80])
    cb.outline.set_visible(False)
    cax.tick_params(length=9, width=1.4, color='#333333', labelsize=fs(31), pad=3, labelcolor='#333333')
    for t in cax.get_yticklabels():
        t.set_family(SERIF)


cp_genes = list(cp_cells.keys())
cp_cols = [[int(ch, 36) * 2.5 for ch in cp_cells[g].replace(' ', '')] for g in cp_genes]
norm_c = heat_panel(800, 2252, 85, 551, cp_cols, cp_genes, 90, 562, 31, '#A8E4DE', 0.45)
norm_d = heat_panel(2243, 2252, 167, 549, mt_cells, mt_genes, 82, 561, 29.5, '#8ADCD3', 0.3)

side_key(cp_species, 837, 1713, 17.9, [(1703, 1931), (1940, 1951), (1958, 2023), (2030, 2095), (2102, 2169)], 808)
side_key(mt_species, 2281, 1714, 20.1, [(1703, 1822), (1828, 1844), (1850, 1921), (1929, 2001), (2010, 2083)], 2252)
taxa_key(1200, 1242)
taxa_key(2647, 2691)
colorbar_at(1491, 1534, 1707, 2126, norm_c)
colorbar_at(2934, 2978, 1707, 2126, norm_d)


def stacked(left, right, y0, y100, first, spacing, tops, names):
    ax = fig.add_axes([left / W, 1 - y0 / H, (right - left) / W, (y0 - y100) / H])
    tops = np.array(tops)
    x = np.arange(len(tops))
    bottoms = np.zeros(len(tops))
    for j in range(tops.shape[1]):
        ax.bar(x, tops[:, j] - bottoms, bottom=bottoms, width=0.71, color=stack_colors[j], edgecolor='white',
               linewidth=0.3)
        bottoms = tops[:, j]
    ax.set_xlim((left - first) / spacing, (right - first) / spacing)
    ax.set_ylim(0, 100)
    ax.set_yticks(np.arange(0, 101, 10))
    ax.set_xticks(x)
    ax.set_xticklabels(names, rotation=42, ha='right', rotation_mode='anchor', family=SERIF, fontsize=fs(33),
                       color='#444444')
    for t in ax.get_yticklabels():
        t.set_family(SERIF)
    ax.tick_params(axis='y', length=9, width=1.3, labelsize=fs(25), labelcolor='#444444', color='#555555', pad=4)
    ax.tick_params(axis='x', length=11, width=1.3, color='#555555', pad=2)
    ax.spines['top'].set_visible(False)
    ax.spines['right'].set_visible(False)
    ax.spines['left'].set_color('#444444')
    ax.spines['left'].set_linewidth(1.5)
    ax.spines['bottom'].set_linewidth(2)
    ax.patch.set_alpha(0)
    return ax


stacked(286, 1500, 3865, 2975, 315, 46.2, e_tops, e_species)
stacked(1859, 2847.5, 3870, 2980, 1891.5, 51.3, f_tops, f_species)


def bar_key(sx, tx, labels):
    for k, n in enumerate(labels[::-1]):
        y = 3033 + k * 47.4
        px.add_patch(FancyBboxPatch((sx + 2, y - 17), 35, 35, boxstyle='round,pad=2,rounding_size=3',
                                    fc=stack_colors[::-1][k], ec='none'))
        if n == 'Others':
            px.text(tx, y, n, va='center', fontsize=fs(26), family=SERIF, color='#444444')
        else:
            px.text(tx, y, n, va='center', fontsize=fs(27), family=['Lato', 'DejaVu Sans'], color='#444444')


bar_key(1535, 1585, e_legend)
bar_key(2886, 2934, f_legend)

# panel letters and titles
for s, x, y in [('A', 178, 103), ('B', 1702, 98), ('C', 182, 1698), ('D', 1701, 1693), ('E', 177, 2919), ('F', 1692, 2919)]:
    px.text(x, y, s, ha='center', va='center', fontsize=fs(135), family=SERIF, color='black')
for s, x, y in [('Chloroplast', 1250, 1643), ('Mitochondrion', 2677, 1643), ('Chloroplast', 1250, 2922),
                ('Mitochondrion', 2695, 2920)]:
    px.text(x, y, s, ha='center', va='center', fontsize=fs(71), family=SERIF, color='black')

fig.savefig('out.png', dpi=100)
